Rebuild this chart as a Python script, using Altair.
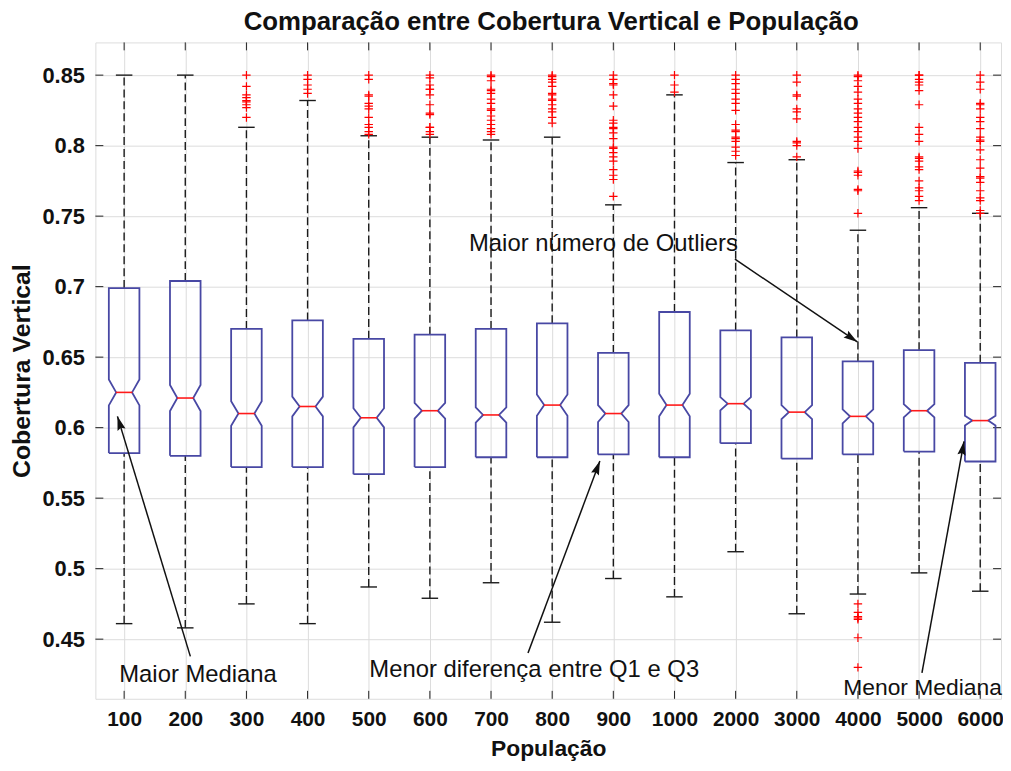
import altair as alt
import pandas as pd

categories = ["100", "200", "300", "400", "500", "600", "700", "800",
              "900", "1000", "2000", "3000", "4000", "5000", "6000"]
q3 = [0.699, 0.704, 0.670, 0.676, 0.663, 0.666, 0.670, 0.674,
      0.653, 0.682, 0.669, 0.664, 0.647, 0.655, 0.646]
median = [0.625, 0.621, 0.610, 0.615, 0.607, 0.612, 0.609, 0.616,
          0.610, 0.616, 0.617, 0.611, 0.608, 0.612, 0.605]
q1 = [0.582, 0.580, 0.572, 0.572, 0.567, 0.572, 0.579, 0.579,
      0.581, 0.579, 0.589, 0.578, 0.581, 0.583, 0.576]
notch = [0.0092, 0.0092, 0.0087, 0.0070, 0.0068, 0.0056, 0.0054, 0.0075,
         0.0060, 0.0080, 0.0047, 0.0050, 0.0050, 0.0047, 0.0035]
upper_whisker = [0.850, 0.850, 0.813, 0.832, 0.807, 0.806, 0.804, 0.806,
                 0.758, 0.836, 0.788, 0.790, 0.740, 0.756, 0.752]
lower_whisker = [0.461, 0.458, 0.475, 0.461, 0.487, 0.479, 0.490, 0.462,
                 0.493, 0.480, 0.512, 0.468, 0.482, 0.497, 0.484]

outliers = [
    [],
    [],
    [0.850, 0.842, 0.836, 0.834, 0.832, 0.831, 0.829, 0.827, 0.820],
    [0.850, 0.847, 0.843, 0.840, 0.837],
    [0.850, 0.847, 0.836, 0.835, 0.830, 0.828, 0.826, 0.820, 0.815, 0.813, 0.810, 0.808],
    [0.850, 0.848, 0.843, 0.840, 0.840, 0.836, 0.829, 0.823, 0.822, 0.813, 0.813, 0.810, 0.808],
    [0.850, 0.849, 0.846, 0.840, 0.839, 0.837, 0.833, 0.830, 0.826, 0.825, 0.821, 0.818,
     0.815, 0.812, 0.810, 0.808],
    [0.850, 0.849, 0.847, 0.845, 0.842, 0.837, 0.836, 0.833, 0.832, 0.829, 0.826, 0.824,
     0.820, 0.816],
    [0.850, 0.847, 0.844, 0.843, 0.836, 0.828, 0.818, 0.816, 0.813, 0.812, 0.809, 0.805,
     0.799, 0.798, 0.795, 0.792, 0.789, 0.783, 0.779, 0.776, 0.764],
    [0.850, 0.843, 0.838],
    [0.850, 0.847, 0.844, 0.840, 0.837, 0.833, 0.830, 0.825, 0.815, 0.811, 0.810, 0.806,
     0.805, 0.803, 0.799, 0.796, 0.793],
    [0.850, 0.845, 0.836, 0.835, 0.826, 0.824, 0.819, 0.803, 0.802, 0.800, 0.792],
    [0.850, 0.849, 0.846, 0.842, 0.838, 0.833, 0.830, 0.826, 0.823, 0.820, 0.817, 0.813,
     0.810, 0.806, 0.803, 0.798, 0.782, 0.781, 0.779, 0.769, 0.768, 0.752,
     0.475, 0.469, 0.466, 0.465, 0.464, 0.451, 0.430],
    [0.850, 0.850, 0.847, 0.845, 0.843, 0.839, 0.829, 0.813, 0.808, 0.803, 0.792, 0.791,
     0.789, 0.785, 0.783, 0.775, 0.770, 0.768, 0.764, 0.761],
    [0.850, 0.845, 0.840, 0.830, 0.829, 0.826, 0.820, 0.817, 0.812, 0.806, 0.804, 0.803,
     0.797, 0.790, 0.784, 0.778, 0.777, 0.774, 0.768, 0.763, 0.761, 0.754, 0.752],
]

y_ticks = [0.45, 0.50, 0.55, 0.60, 0.65, 0.70, 0.75, 0.80, 0.85]

title_text = "Comparação entre Cobertura Vertical e População"
x_title = "População"
y_title = "Cobertura Vertical"

ann_text = ["Maior Mediana", "Menor diferença entre Q1 e Q3",
            "Maior número de Outliers", "Menor Mediana"]
ann_text_x = [0.92, 5.01, 6.64, 12.76]
ann_text_y = [0.4246, 0.4282, 0.7303, 0.4155]
ann_size = [24, 24, 24, 23]
arrow_x0 = [2.083, 7.605, 10.989, 14.047]
arrow_y0 = [0.4378, 0.4401, 0.7195, 0.4260]
arrow_x1 = [0.891, 8.780, 12.991, 14.735]
arrow_y1 = [0.6080, 0.5763, 0.6608, 0.5903]
arrow_angle = [343.0, 20.5, 124.0, 10.3]

# ---- tables built from the arrays ----
BOX_HW = 0.25
NOTCH_HW = 0.13
CAP_HW = 0.135

n = len(categories)
idx = list(range(1, n + 1))
boxes = pd.DataFrame({
    "i": idx, "cat": categories, "q1": q1, "q3": q3, "med": median,
    "notch": notch, "hi": upper_whisker, "lo": lower_whisker,
})
boxes["xl"] = boxes["i"] - CAP_HW
boxes["xr"] = boxes["i"] + CAP_HW

outline_rows = []
for k in range(n):
    i = idx[k]
    m, nh = median[k], notch[k]
    pts = [(-BOX_HW, q1[k]), (-BOX_HW, m - nh), (-NOTCH_HW, m), (-BOX_HW, m + nh),
           (-BOX_HW, q3[k]), (BOX_HW, q3[k]), (BOX_HW, m + nh), (NOTCH_HW, m),
           (BOX_HW, m - nh), (BOX_HW, q1[k]), (-BOX_HW, q1[k])]
    for o, (dx, yv) in enumerate(pts):
        outline_rows.append({"box": categories[k], "order": o, "x": i + dx, "y": yv})
outline = pd.DataFrame(outline_rows)

out_rows = []
for k in range(n):
    for v in outliers[k]:
        out_rows.append({"i": idx[k], "v": v})
out_df = pd.DataFrame(out_rows)

ann = pd.DataFrame({
    "text": ann_text, "tx": ann_text_x, "ty": ann_text_y, "size": ann_size,
    "x0": arrow_x0, "y0": arrow_y0, "x1": arrow_x1, "y1": arrow_y1,
    "angle": arrow_angle,
})

ticks_y = pd.DataFrame({"v": y_ticks})
ticks_x = pd.DataFrame({"i": idx})
title_df = pd.DataFrame({"t": [title_text]})

W, H = 912, 661
FONT = "Liberation Sans"
INK = "#111111"

label_expr = "[" + ",".join("'%s'" % c for c in categories) + "][datum.value - 1]"

xscale = alt.Scale(domain=[0.53, 15.34], nice=False, zero=False)
yscale = alt.Scale(domain=[0.4077, 0.8732], nice=False, zero=False)

X = alt.X("i:Q", scale=xscale,
          axis=alt.Axis(values=idx, labelExpr=label_expr, title=x_title,
                        grid=True, gridColor="#dcdcdc", ticks=False, domain=False,
                        labelFont=FONT, labelFontSize=21, labelFontWeight="bold",
                        labelColor=INK, labelPadding=10,
                        titleFont=FONT, titleFontSize=23, titleFontWeight="bold",
                        titleColor=INK, titleBaseline="alphabetic", titleY=57))
Y = alt.Y("v:Q", scale=yscale,
          axis=alt.Axis(values=y_ticks, format=".2~f", title=y_title,
                        grid=True, gridColor="#dcdcdc", ticks=False, domain=False,
                        labelFont=FONT, labelFontSize=22, labelFontWeight="bold",
                        labelColor=INK, labelPadding=11,
                        titleFont=FONT, titleFontSize=25, titleFontWeight="bold",
                        titleColor=INK, titleX=-74, titleBaseline="middle"))

# whiskers (dashed)
wh_up = alt.Chart(boxes).mark_rule(color="#1a1a1a", strokeWidth=1.4, strokeDash=[8, 4]).encode(
    x=alt.X("i:Q", scale=xscale), y=alt.Y("q3:Q", scale=yscale), y2="hi:Q")
wh_lo = alt.Chart(boxes).mark_rule(color="#1a1a1a", strokeWidth=1.4, strokeDash=[8, 4]).encode(
    x=alt.X("i:Q", scale=xscale), y=alt.Y("lo:Q", scale=yscale), y2="q1:Q")
cap_up = alt.Chart(boxes).mark_rule(color="#1a1a1a", strokeWidth=1.4).encode(
    x=alt.X("xl:Q", scale=xscale), x2="xr:Q", y=alt.Y("hi:Q", scale=yscale))
cap_lo = alt.Chart(boxes).mark_rule(color="#1a1a1a", strokeWidth=1.4).encode(
    x=alt.X("xl:Q", scale=xscale), x2="xr:Q", y=alt.Y("lo:Q", scale=yscale))

box_lines = alt.Chart(outline).mark_line(color="#4848a4", strokeWidth=1.8).encode(
    x=alt.X("x:Q", scale=xscale), y=alt.Y("y:Q", scale=yscale),
    detail="box:N", order="order:Q")

med_rule = alt.Chart(boxes).mark_rule(color="#ff1a1a", strokeWidth=1.6).encode(
    x=alt.X("xl:Q", scale=xscale), x2="xr:Q", y=alt.Y("med:Q", scale=yscale))

out_pts = alt.Chart(out_df).mark_point(
    shape="M-1,0L1,0M0,-1L0,1", size=72, filled=False, color="#ff0000", strokeWidth=1.2,
    opacity=1).encode(x=alt.X("i:Q", scale=xscale), y=alt.Y("v:Q", scale=yscale))

left_ticks = alt.Chart(ticks_y).mark_rule(color="#222222", strokeWidth=1).encode(
    x=alt.value(0), x2=alt.value(8), y=Y)
right_ticks = alt.Chart(ticks_y).mark_rule(color="#222222", strokeWidth=1).encode(
    x=alt.value(W), x2=alt.value(W - 8), y=alt.Y("v:Q", scale=yscale))
bottom_ticks = alt.Chart(ticks_x).mark_rule(color="#222222", strokeWidth=1).encode(
    x=X, y=alt.value(H), y2=alt.value(H - 8))
top_ticks = alt.Chart(ticks_x).mark_rule(color="#222222", strokeWidth=1).encode(
    x=alt.X("i:Q", scale=xscale), y=alt.value(0), y2=alt.value(8))

arrow_lines = alt.Chart(ann).mark_rule(color=INK, strokeWidth=1.5).encode(
    x=alt.X("x0:Q", scale=xscale), y=alt.Y("y0:Q", scale=yscale), x2="x1:Q", y2="y1:Q")
arrow_heads = alt.Chart(ann).mark_point(
    shape="M0,0L-0.6,2L0,1.7L0.6,2Z", size=196, filled=True, color=INK,
    opacity=1).encode(
    x=alt.X("x1:Q", scale=xscale), y=alt.Y("y1:Q", scale=yscale),
    angle=alt.Angle("angle:Q", scale=None))
ann_texts = alt.Chart(ann).mark_text(
    align="left", baseline="middle", font=FONT, color=INK).encode(
    x=alt.X("tx:Q", scale=xscale), y=alt.Y("ty:Q", scale=yscale), text="text:N",
    size=alt.Size("size:Q", scale=None))

title_mark = alt.Chart(title_df).mark_text(
    align="center", baseline="alphabetic", font=FONT, fontSize=26, fontWeight="bold",
    color=INK).encode(x=alt.value(W / 2 + 3), y=alt.value(-12), text="t:N")

chart = alt.layer(
    left_ticks, right_ticks, bottom_ticks, top_ticks,
    wh_up, wh_lo, cap_up, cap_lo, box_lines, med_rule, out_pts,
    arrow_lines, arrow_heads, ann_texts, title_mark,
).properties(
    width=W, height=H,
    autosize=alt.AutoSizeParams(type="none"),
    padding={"left": 88, "top": 32, "right": 2, "bottom": 62},
).configure_view(
    stroke=INK, strokeWidth=1.2
).configure(background="white")

chart.save("out.html", embed_options={"renderer": "svg", "actions": False})
